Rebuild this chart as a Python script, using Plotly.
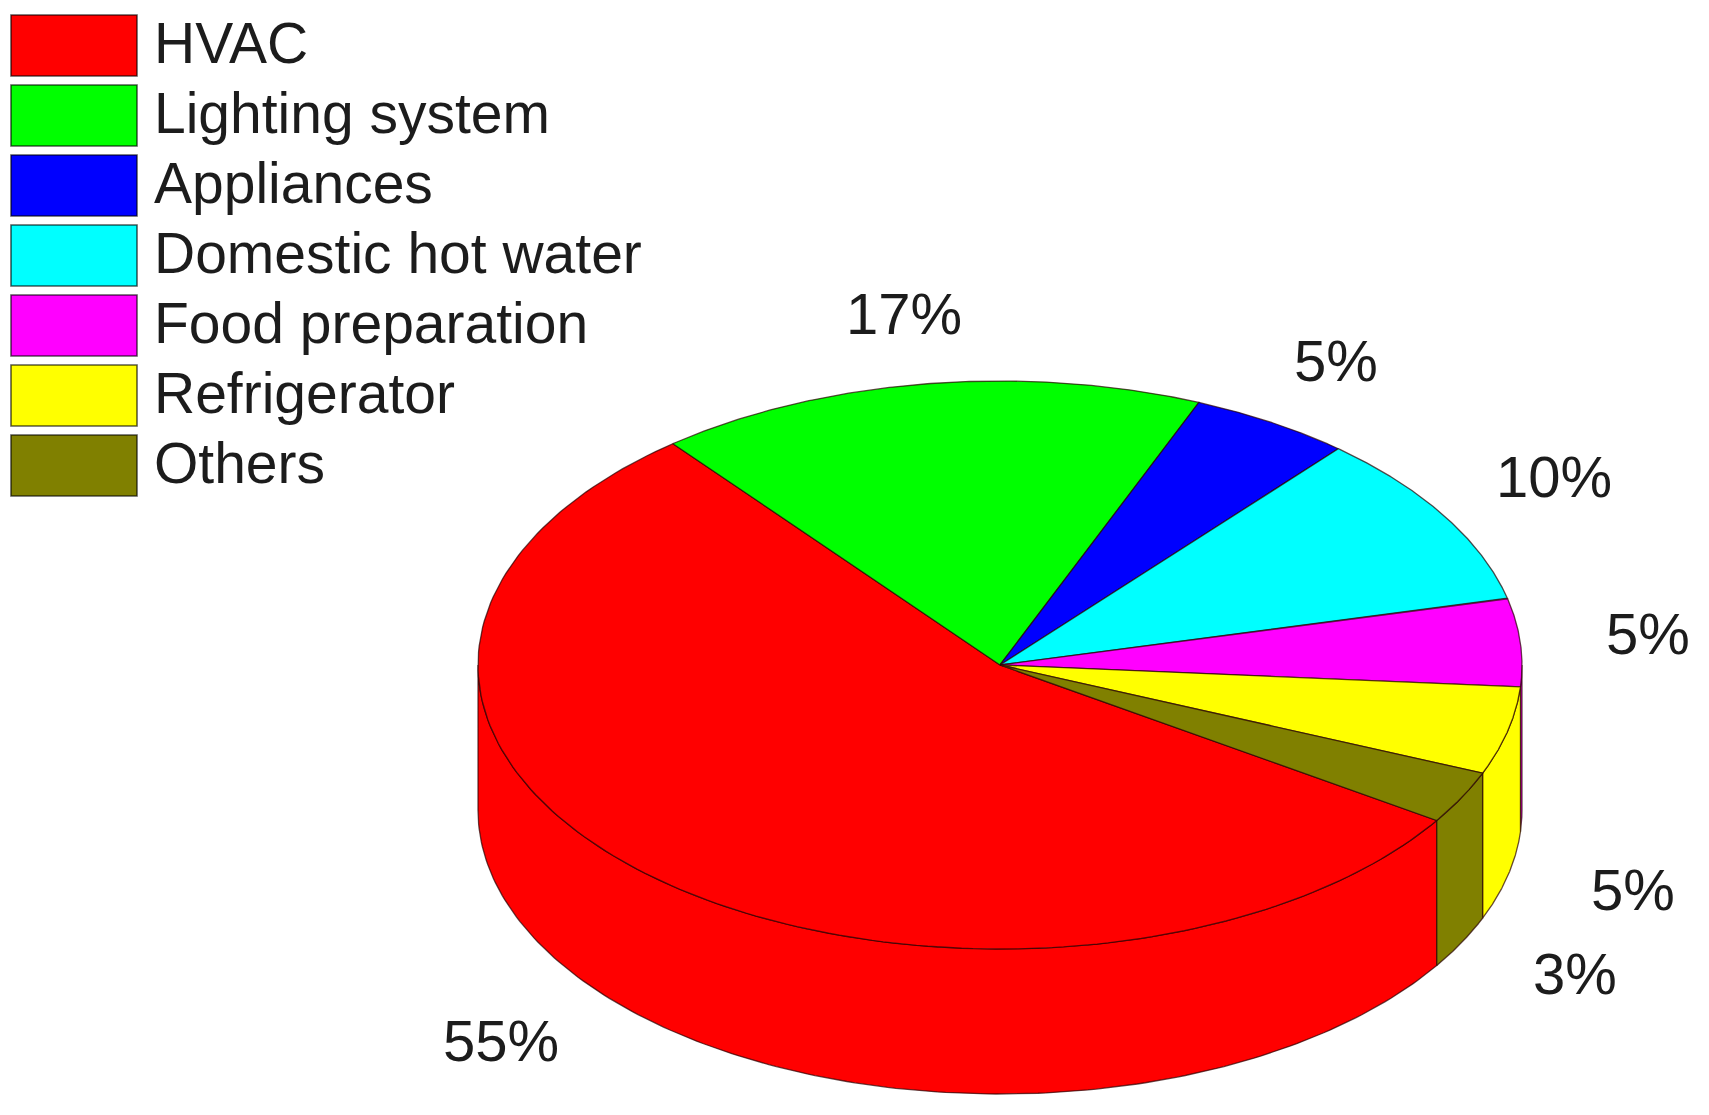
"""3D-look energy share pie, drawn as filled wedges on a pixel-scaled plot."""

import numpy as np
import plotly.graph_objects as go

CATEGORIES = [
    "HVAC",
    "Lighting system",
    "Appliances",
    "Domestic hot water",
    "Food preparation",
    "Refrigerator",
    "Others",
]
SHARES = [55, 17, 5, 10, 5, 5, 3]
COLORS = ["#ff0000", "#00ff00", "#0000ff", "#00ffff", "#ff00ff", "#ffff00", "#808000"]
LABEL_X = [501, 904, 1336, 1554, 1648, 1633, 1575]
LABEL_Y = [1040, 313, 360, 476, 633, 889, 973]

WIDTH, HEIGHT = 1709, 1115
CX, CY, RX, RY = 1000, 665, 522, 284
DEPTH = 145
START_ANGLE = -33.2
EDGE = "rgba(40,0,0,0.7)"
FONT = "Liberation Sans"
TEXT = "#1c1c1c"


def arc(a1, a2, dy=0.0):
    t = np.radians(np.linspace(a1, a2, 160))
    return CX + RX * np.cos(t), CY - RY * np.sin(t) + dy


fig = go.Figure()

# slice angles, going clockwise from the Others/HVAC edge
angles = START_ANGLE - np.cumsum([0] + SHARES) * 3.6

# side walls first, only the part of the rim that faces the viewer
for i, name in enumerate(CATEGORIES):
    a1, a2 = angles[i], angles[i + 1]
    if a1 < -180:  # past the back of the pie, bring it round to the front range
        a1, a2 = a1 + 360, a2 + 360
    hi, lo = min(a1, 0), max(a2, -180)
    if hi <= lo:
        continue
    tx, ty = arc(hi, lo)
    bx, by = arc(hi, lo, DEPTH)
    fig.add_trace(
        go.Scatter(
            x=np.r_[tx, bx[::-1], tx[0]],
            y=np.r_[ty, by[::-1], ty[0]],
            mode="lines",
            fill="toself",
            fillcolor=COLORS[i],
            line=dict(color=EDGE, width=1.3),
            name=name,
            hoverinfo="name",
        )
    )

# top face
for i, name in enumerate(CATEGORIES):
    tx, ty = arc(angles[i], angles[i + 1])
    fig.add_trace(
        go.Scatter(
            x=np.r_[CX, tx, CX],
            y=np.r_[CY, ty, CY],
            mode="lines",
            fill="toself",
            fillcolor=COLORS[i],
            line=dict(color=EDGE, width=1.3),
            name=name,
            hoverinfo="name",
        )
    )

# percent labels
for share, x, y in zip(SHARES, LABEL_X, LABEL_Y):
    fig.add_annotation(
        x=x, y=y, text=f"{share}%", showarrow=False,
        font=dict(family=FONT, size=58, color=TEXT),
    )

# hand-placed legend
for i, name in enumerate(CATEGORIES):
    top = 15 + 70 * i
    fig.add_shape(
        type="rect", x0=11, x1=137, y0=top, y1=top + 61,
        fillcolor=COLORS[i], line=dict(color="rgba(0,0,0,0.65)", width=1.6),
    )
    fig.add_annotation(
        x=152, y=top + 28, text=name, showarrow=False, xanchor="left",
        font=dict(family=FONT, size=57, color=TEXT),
    )

fig.update_layout(
    width=WIDTH,
    height=HEIGHT,
    margin=dict(l=0, r=0, t=0, b=0),
    paper_bgcolor="white",
    plot_bgcolor="white",
    showlegend=False,
    xaxis=dict(range=[0, WIDTH], visible=False, fixedrange=True),
    yaxis=dict(range=[HEIGHT, 0], visible=False, fixedrange=True),
)

fig.write_html(
    "out.html",
    config=dict(displayModeBar=False),
    post_script="document.body.style.margin='0';",
)
